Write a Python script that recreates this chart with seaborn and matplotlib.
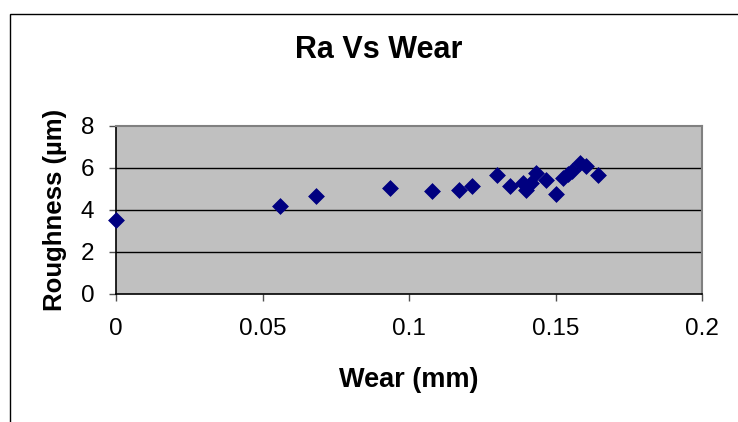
import matplotlib
matplotlib.use("Agg")
import matplotlib.pyplot as plt
import seaborn as sns
import pandas as pd
from matplotlib.patches import Rectangle

wear = [0.0, 0.0561, 0.0684, 0.0935, 0.1077, 0.1172, 0.1214, 0.1302, 0.1345,
        0.1390, 0.1399, 0.1415, 0.1432, 0.1466, 0.1500, 0.1527, 0.1544,
        0.1557, 0.1584, 0.1603, 0.1644]
roughness = [3.53, 4.20, 4.66, 5.06, 4.89, 4.97, 5.16, 5.65, 5.16,
             5.29, 4.97, 5.29, 5.76, 5.44, 4.78, 5.52, 5.71,
             5.84, 6.24, 6.11, 5.65]
x_ticks = [0, 0.05, 0.1, 0.15, 0.2]
x_tick_labels = ["0", "0.05", "0.1", "0.15", "0.2"]
y_ticks = [0, 2, 4, 6, 8]

df = pd.DataFrame({"Wear (mm)": wear, "Roughness (µm)": roughness})

sns.set_theme(style="white")
plt.rcParams['font.family'] = ['Liberation Sans', 'DejaVu Sans']
plt.rcParams['text.color'] = 'black'
plt.rcParams['axes.labelcolor'] = 'black'
plt.rcParams['xtick.color'] = 'black'
plt.rcParams['ytick.color'] = 'black'

W, H = 738, 422
fig = plt.figure(figsize=(W / 100, H / 100), dpi=100)
fig.patch.set_facecolor("white")
ax = fig.add_axes([116 / W, 1 - 294 / H, (702 - 116) / W, (294 - 126) / H])
ax.set_facecolor("#C0C0C0")

sns.scatterplot(data=df, x="Wear (mm)", y="Roughness (µm)", ax=ax, marker="D",
                s=65, color="#000080", edgecolor="#000080", linewidth=0.5,
                zorder=5, clip_on=False)

ax.set_xlim(0, 0.2)
ax.set_ylim(0, 8)
ax.set_xticks(x_ticks)
ax.set_xticklabels(x_tick_labels)
ax.set_yticks(y_ticks)
for yv in y_ticks[1:-1]:
    ax.axhline(yv, color="black", lw=1.0, zorder=1)

for side in ["top", "right"]:
    ax.spines[side].set_color("#808080")
    ax.spines[side].set_linewidth(1.5)
for side in ["left", "bottom"]:
    ax.spines[side].set_color("black")
    ax.spines[side].set_linewidth(1.2)

ax.tick_params(axis="both", which="major", direction="out", length=5, width=1,
               color="#505050", labelsize=17.5, labelcolor="black",
               bottom=True, left=True)
ax.tick_params(axis="x", pad=12)
ax.tick_params(axis="y", pad=10.5)

ax.set_xlabel("Wear (mm)", fontsize=19.5, fontweight="bold", color="black")
ax.set_ylabel("Roughness (µm)", fontsize=18.5, fontweight="bold", color="black")
ax.xaxis.set_label_coords(0.5, -(387 - 294) / 168)
ax.xaxis.label.set_verticalalignment("baseline")
ax.xaxis.label.set_horizontalalignment("center")
ax.yaxis.set_label_coords((62 - 116) / 586, 0.5)
ax.yaxis.label.set_verticalalignment("baseline")

fig.text(378.5 / W, 1 - 58 / H, "Ra Vs Wear", ha="center", va="baseline",
         fontsize=22, fontweight="bold", color="black")

fig.patches.append(Rectangle((10 / W, -0.1), 1.2, 1 - 14 / H + 0.1,
                             transform=fig.transFigure, fill=False,
                             edgecolor="black", lw=1.0))

fig.savefig("out.png", dpi=100)
